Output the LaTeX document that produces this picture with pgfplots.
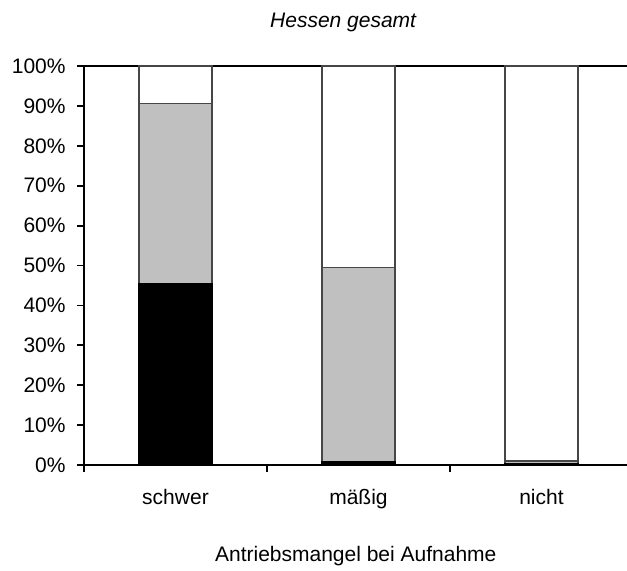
\documentclass[border=0pt]{standalone}
\usepackage{fontspec}
\setmainfont{Liberation Sans}
\usepackage{pgfplots}
\pgfplotsset{compat=1.18}

\definecolor{segblack}{RGB}{0,0,0}
\definecolor{seggray}{RGB}{192,192,192}
\definecolor{edge}{RGB}{70,70,70}

\begin{document}
\fontsize{10.5}{12.6}\selectfont
\begin{tikzpicture}
\begin{axis}[
  at={(0,0)}, anchor=south west,
  scale only axis,
  width=274.5pt, height=199.5pt,
  xmin=-0.5, xmax=2.5,
  ymin=0, ymax=100,
  ybar stacked,
  bar width=36.5pt,
  axis x line=bottom, axis y line=left,
  axis line style={line width=0.9pt, -},
  tick align=outside,
  major tick length=3.5pt,
  minor tick length=3.5pt,
  ytick={0,10,...,100},
  yticklabel={\pgfmathprintnumber{\tick}\%},
  y tick style={line width=0.9pt, black},
  xtick={0,1,2},
  xticklabels={schwer,mäßig,nicht},
  every major x tick/.append style={draw=none},
  minor xtick={-0.5,0.5,1.5,2.5},
  every minor x tick/.append style={line width=0.9pt, black},
  x tick label style={yshift=-5pt},
  y tick label style={xshift=-2pt},
  /pgf/number format/assume math mode=true,
  clip=false,
  every axis plot/.append style={draw=edge, line width=0.6pt},
]
\addplot[fill=segblack, draw=segblack] coordinates {(0,45.4) (1,0.9) (2,0.3)};
\addplot[fill=seggray] coordinates {(0,45.3) (1,48.7) (2,0.7)};
\addplot[fill=white] coordinates {(0,9.3) (1,50.4) (2,99.0)};
\draw[line width=0.6pt] (rel axis cs:0,1) -- (rel axis cs:1,1);
\node[font=\itshape] at (rel axis cs:0.472,1) [yshift=22pt] {Hessen gesamt};
\node at (rel axis cs:0.495,0) [yshift=-45.5pt] {Antriebsmangel bei Aufnahme};
\end{axis}
\pgfresetboundingbox
\path[use as bounding box] (-42pt,-52.5pt) rectangle (271.5pt,232.5pt);
\end{tikzpicture}
\end{document}
